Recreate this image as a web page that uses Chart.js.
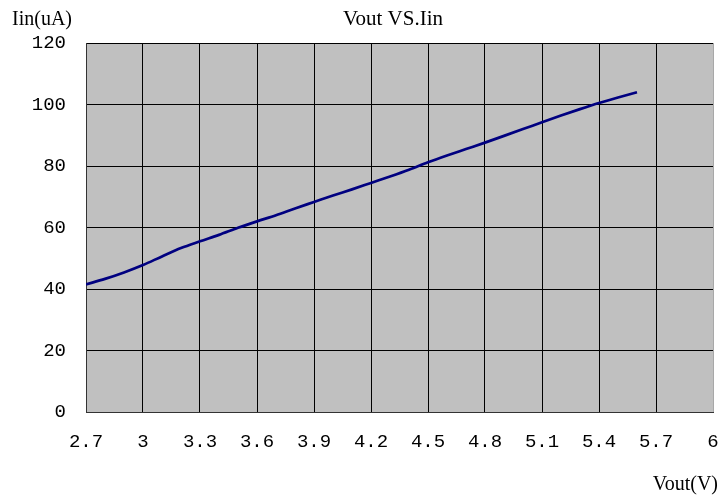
<!DOCTYPE html>
<html lang="en">
<head>
  <meta charset="UTF-8">
  <title>Vout VS.Iin</title>
  <script src="https://cdn.jsdelivr.net/npm/chart.js"></script>
  <style>
    html, body { margin: 0; padding: 0; background: #fff; }
    #wrap { width: 721px; height: 499px; }
  </style>
</head>
<body>
  <div id="wrap"><canvas id="myChart" width="721" height="499"></canvas></div>

  <script>
    // data
    const vout = [2.7, 2.8, 2.9, 3.0, 3.1, 3.2, 3.3, 3.4, 3.5, 3.6, 3.7, 3.8, 3.9, 4.0, 4.1,
                  4.2, 4.3, 4.4, 4.5, 4.6, 4.7, 4.8, 4.9, 5.0, 5.1, 5.2, 5.3, 5.4, 5.5, 5.6];
    const iin = [41.5, 43.3, 45.4, 47.8, 50.6, 53.3, 55.5, 57.6, 59.9, 62.0, 64.0, 66.2, 68.3, 70.4, 72.4,
                 74.5, 76.6, 78.8, 81.2, 83.4, 85.5, 87.6, 89.8, 92.0, 94.2, 96.4, 98.5, 100.5, 102.3, 104.0];
    const xTicks = ['2.7', '3', '3.3', '3.6', '3.9', '4.2', '4.5', '4.8', '5.1', '5.4', '5.7', '6'];
    const yTicks = ['0', '20', '40', '60', '80', '100', '120'];

    const points = vout.map((v, i) => ({ x: v, y: iin[i] }));
    const tickFont = { family: 'Liberation Mono', size: 19 };

    // gray plot area + the titles
    const decor = {
      id: 'decor',
      beforeDraw(chart) {
        const c = chart.ctx, a = chart.chartArea;
        c.save();
        c.fillStyle = '#c0c0c0';
        c.fillRect(a.left, a.top, a.right - a.left, a.bottom - a.top);
        c.restore();
      },
      afterDraw(chart) {
        const c = chart.ctx;
        c.save();
        c.fillStyle = '#000';
        c.textBaseline = 'alphabetic';
        c.font = '21px "Liberation Serif"';
        c.textAlign = 'center';
        c.fillText('Vout VS.Iin', 393, 25);
        c.font = '20px "Liberation Serif"';
        c.textAlign = 'left';
        c.fillText('Iin(uA)', 12, 25);
        c.textAlign = 'right';
        c.fillText('Vout(V)', 718, 490);
        c.restore();
      }
    };

    const ctx = document.getElementById('myChart').getContext('2d');
    new Chart(ctx, {
      type: 'scatter',
      data: {
        datasets: [{
          label: 'Iin',
          data: points,
          showLine: true,
          borderColor: '#000080',
          borderWidth: 2.7,
          pointRadius: 0,
          tension: 0.4,
          cubicInterpolationMode: 'monotone'
        }]
      },
      options: {
        responsive: false,
        animation: false,
        layout: { padding: { top: 43, right: 8, left: 0, bottom: 0 } },
        plugins: { legend: { display: false }, tooltip: { enabled: false } },
        scales: {
          x: {
            type: 'linear',
            min: 2.7,
            max: 6,
            afterBuildTicks: s => { s.ticks = xTicks.map(t => ({ value: parseFloat(t) })); },
            afterFit: s => { s.height = 87; s.paddingLeft = 0; s.paddingRight = 0; },
            ticks: {
              color: '#000',
              font: tickFont,
              padding: 19,
              maxRotation: 0,
              autoSkip: false,
              callback: (v, i) => xTicks[i]
            },
            grid: {
              drawTicks: false,
              lineWidth: 1,
              color: c => (c.index === xTicks.length - 1 ? '#a8a8a8' : '#000')
            },
            border: { color: '#333', width: 1 }
          },
          y: {
            min: 0,
            max: 120,
            afterBuildTicks: s => { s.ticks = yTicks.map(t => ({ value: parseFloat(t) })); },
            afterFit: s => { s.width = 86; s.paddingTop = 0; s.paddingBottom = 0; },
            ticks: {
              color: '#000',
              font: tickFont,
              padding: 20,
              callback: (v, i) => yTicks[i]
            },
            grid: { drawTicks: false, lineWidth: 1, color: '#000' },
            border: { color: '#333', width: 1 }
          }
        }
      },
      plugins: [decor]
    });
  </script>
</body>
</html>
